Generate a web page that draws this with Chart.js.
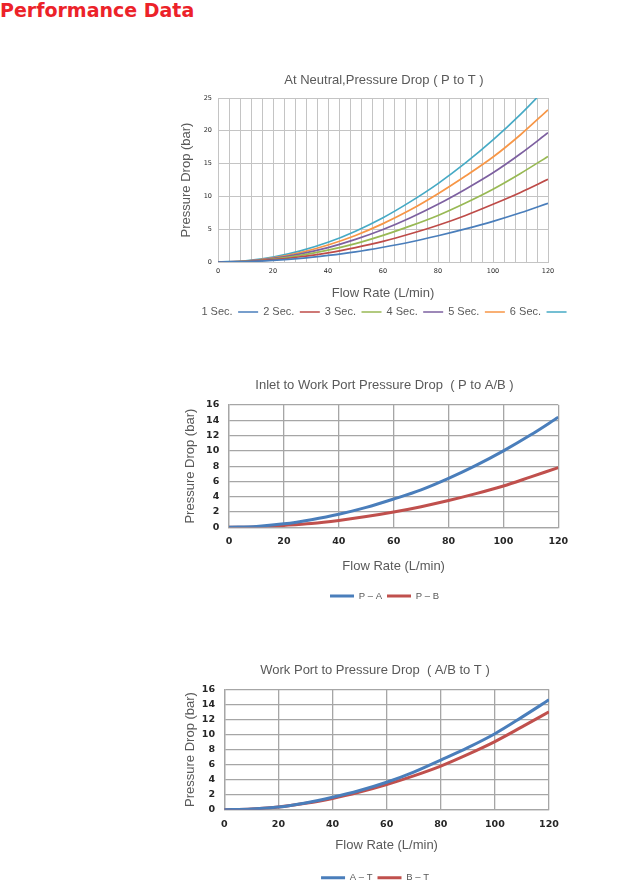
<!DOCTYPE html>
<html>
<head>
<meta charset="utf-8">
<title>Performance Data</title>
<script src="https://cdn.jsdelivr.net/npm/chart.js@4.4.1/dist/chart.umd.min.js"></script>
<style>
  html, body { margin: 0; padding: 0; background: #fff; }
  body { width: 639px; height: 883px; overflow: hidden; position: relative; }
  #heading {
    position: absolute; left: 0; top: 1px;
    font: bold 19px "DejaVu Sans"; line-height: 19px; color: #ec2229;
  }
  canvas { position: absolute; left: 0; }
</style>
</head>
<body>
<div id="heading">Performance Data</div>
<canvas id="neutral" width="639" height="268" style="top:60px"></canvas>
<canvas id="inlet" width="639" height="246" style="top:365px"></canvas>
<canvas id="workPort" width="639" height="243" style="top:650px"></canvas>
<script>
// flow rate (L/min) at which every curve was read
const flowRates = [0, 10, 20, 30, 40, 50, 60, 70, 80, 90, 100, 110, 120];
const flowTickLabels = [0, 20, 40, 60, 80, 100, 120];

// At neutral, P to T (bar)
const neutralLabels = ['1 Sec.', '2 Sec.', '3 Sec.', '4 Sec.', '5 Sec.', '6 Sec.'];
const sec1 = [0, 0.05, 0.25, 0.55, 1.0, 1.55, 2.25, 3.05, 4.0, 5.05, 6.2, 7.5, 8.95];
const sec2 = [0, 0.08, 0.35, 0.8, 1.4, 2.2, 3.15, 4.3, 5.6, 7.1, 8.8, 10.6, 12.6];
const sec3 = [0, 0.1, 0.45, 1.0, 1.8, 2.8, 4.05, 5.5, 7.1, 9.0, 11.1, 13.5, 16.1];
const sec4 = [0, 0.12, 0.55, 1.25, 2.2, 3.45, 4.95, 6.75, 8.8, 11.1, 13.6, 16.5, 19.7];
const sec5 = [0, 0.15, 0.65, 1.45, 2.6, 4.05, 5.85, 7.95, 10.4, 13.1, 16.0, 19.4, 23.2];
const sec6 = [0, 0.18, 0.75, 1.7, 3.0, 4.7, 6.75, 9.2, 11.95, 15.1, 18.6, 22.5, 26.8];

// P to A/B (bar)
const pToA = [0, 0.1, 0.45, 1.0, 1.7, 2.6, 3.7, 4.9, 6.4, 8.1, 10.0, 12.1, 14.4];
const pToB = [0, 0.05, 0.25, 0.5, 0.9, 1.4, 2.0, 2.7, 3.5, 4.4, 5.4, 6.6, 7.8];

// A/B to T (bar)
const aToT = [0, 0.1, 0.35, 0.9, 1.65, 2.55, 3.65, 5.0, 6.6, 8.25, 10.1, 12.3, 14.6];
const bToT = [0, 0.1, 0.35, 0.85, 1.5, 2.35, 3.35, 4.5, 5.8, 7.35, 9.05, 11.0, 13.0];

const grey = '#595959';
const sans = 'Liberation Sans';
const neutralColors = ['#4a7ebb', '#be4b48', '#98b954', '#7d60a0', '#f79646', '#46aac5'];
const blue = '#4a7ebb';
const red = '#c0504d';

function points(values) {
  return values.map((v, i) => ({ x: flowRates[i], y: v }));
}

function series(label, values, color, width) {
  return {
    label: label,
    data: points(values),
    borderColor: color,
    backgroundColor: color,
    borderWidth: width,
    pointRadius: 0,
    cubicInterpolationMode: 'monotone'
  };
}

function lineChart(id, g) {
  return new Chart(document.getElementById(id), {
    type: 'line',
    data: { datasets: g.datasets },
    options: {
      responsive: false,
      animation: false,
      events: [],
      layout: { padding: g.padding },
      plugins: {
        tooltip: { enabled: false },
        title: {
          display: true,
          text: g.title,
          color: grey,
          font: { family: sans, size: 13, weight: 'normal' },
          padding: g.titlePadding
        },
        legend: Object.assign({
          position: 'bottom',
          labels: {
            usePointStyle: true,
            pointStyle: 'line',
            pointStyleWidth: g.legendLine,
            padding: 5,
            color: grey,
            font: { family: sans, size: g.legendSize }
          }
        }, g.legend)
      },
      scales: {
        x: {
          type: 'linear',
          min: 0,
          max: 120,
          afterFit: a => { a.height = g.xHeight; },
          grid: { color: g.gridColor, lineWidth: g.gridWidth, drawTicks: false },
          border: { color: g.gridColor, width: g.gridWidth },
          ticks: {
            stepSize: g.xStep,
            autoSkip: false,
            maxRotation: 0,
            padding: g.xTickPad,
            color: '#262626',
            font: g.tickFont,
            callback: v => flowTickLabels.includes(v) ? v : ''
          },
          title: {
            display: true,
            text: 'Flow Rate (L/min)',
            color: grey,
            font: { family: sans, size: 13 },
            padding: { top: 4, bottom: g.xTitlePad }
          }
        },
        y: {
          min: 0,
          max: g.yMax,
          afterFit: a => { a.width = g.yWidth; },
          grid: { color: g.gridColor, lineWidth: g.gridWidth, drawTicks: false },
          border: { color: g.gridColor, width: g.gridWidth },
          ticks: {
            stepSize: g.yStep,
            padding: g.yTickPad,
            color: '#262626',
            font: g.tickFont
          },
          title: {
            display: true,
            text: 'Pressure Drop (bar)',
            color: grey,
            font: { family: sans, size: 13 },
            padding: { top: 4, bottom: 4 }
          }
        },
        // empty strip on the right so title and legend sit where the original has them
        pad: {
          type: 'linear',
          position: 'right',
          afterFit: a => { a.width = g.rightStrip; },
          grid: { display: false },
          border: { display: false },
          ticks: { display: false }
        }
      }
    }
  });
}

lineChart('neutral', {
  title: 'At Neutral,Pressure Drop ( P to T )',
  datasets: [sec1, sec2, sec3, sec4, sec5, sec6].map((s, i) =>
    series(neutralLabels[i], s, neutralColors[i], 1.7)),
  padding: { left: 174.2, right: 45.2, top: 0, bottom: 0.5 },
  titlePadding: { top: 12.2, bottom: 10.2 },
  legend: { rtl: true, reverse: true, textDirection: 'ltr' },
  legendLine: 20,
  legendSize: 11,
  gridColor: '#c4c4c4',
  gridWidth: 1,
  tickFont: { family: 'DejaVu Sans', size: 6.5 },
  xStep: 4,
  yStep: 5,
  yMax: 25,
  xHeight: 39.5,
  xTickPad: 5.1,
  xTitlePad: 0.7,
  yWidth: 43.8,
  yTickPad: 6,
  rightStrip: 45.8
});

lineChart('inlet', {
  title: 'Inlet to Work Port Pressure Drop  ( P to A/B )',
  datasets: [series('P \u2012 A', pToA, blue, 3), series('P \u2012 B', pToB, red, 3)],
  padding: { left: 178.2, right: 48.2, top: 0, bottom: 0.25 },
  titlePadding: { top: 12.2, bottom: 12.2 },
  legend: {},
  legendLine: 24,
  legendSize: 9.5,
  gridColor: '#a6a6a6',
  gridWidth: 1.3,
  tickFont: { family: 'DejaVu Sans', size: 9.5, weight: 'bold' },
  xStep: 20,
  yStep: 2,
  yMax: 16,
  xHeight: 58.95,
  xTickPad: 9,
  xTitlePad: 12.45,
  yWidth: 50.8,
  yTickPad: 9.7,
  rightStrip: 32.5
});

lineChart('workPort', {
  title: 'Work Port to Pressure Drop  ( A/B to T )',
  datasets: [series('A \u2012 T', aToT, blue, 3), series('B \u2012 T', bToT, red, 3)],
  padding: { left: 178.2, right: 67.2, top: 0, bottom: 0.55 },
  titlePadding: { top: 12.2, bottom: 11.5 },
  legend: {},
  legendLine: 24,
  legendSize: 9.5,
  gridColor: '#a6a6a6',
  gridWidth: 1.3,
  tickFont: { family: 'DejaVu Sans', size: 9.5, weight: 'bold' },
  xStep: 20,
  yStep: 2,
  yMax: 16,
  xHeight: 58.25,
  xTickPad: 9.3,
  xTitlePad: 15.15,
  yWidth: 46.1,
  yTickPad: 9.3,
  rightStrip: 22.8
});
</script>
</body>
</html>
